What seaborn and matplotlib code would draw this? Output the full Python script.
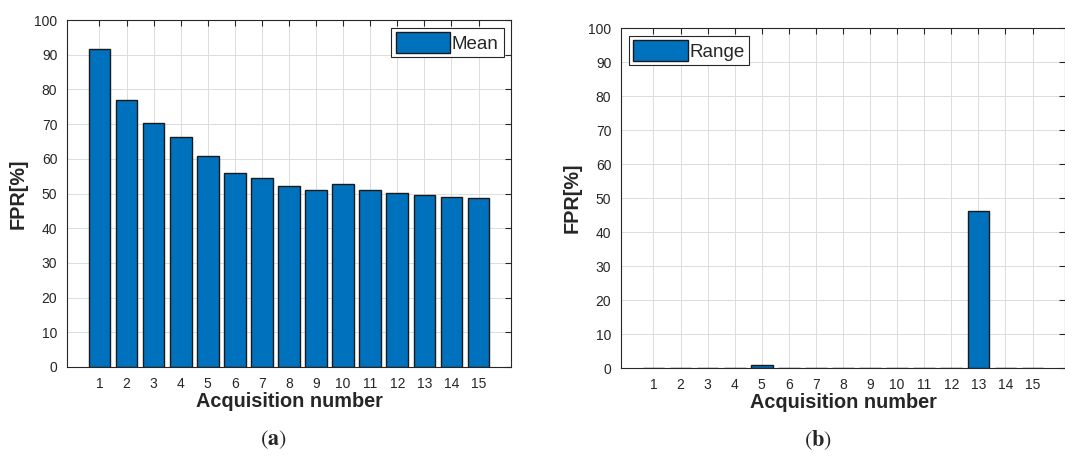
import pandas as pd
import matplotlib.pyplot as plt
import matplotlib.patches as mpatches
import seaborn as sns

# Data
acquisition = list(range(1, 16))
mean_fpr = [91.6, 77.0, 70.4, 66.3, 60.9, 55.8, 54.4, 52.3, 51.1, 52.6, 51.1, 50.2, 49.5, 49.1, 48.7]
range_fpr = [0, 0, 0, 0, 0.9, 0, 0, 0, 0, 0, 0, 0, 46.3, 0, 0]
y_ticks = list(range(0, 101, 10))

bar_color = '#0072BD'

sns.set_style('white')
plt.rcParams['font.family'] = ['Liberation Sans', 'DejaVu Sans']
plt.rcParams['mathtext.fontset'] = 'stix'

fig = plt.figure(figsize=(10.65, 4.58), dpi=100)
ax1 = fig.add_axes([67 / 1065, (458 - 367) / 458, 444 / 1065, 347 / 458])
ax2 = fig.add_axes([621 / 1065, (458 - 368) / 458, 444 / 1065, 340 / 458])

df = pd.DataFrame({'acq': acquisition, 'mean': mean_fpr, 'range': range_fpr})


def style_axes(ax, col, label, loc):
    sns.barplot(data=df, x='acq', y=col, ax=ax, native_scale=True, color=bar_color,
                edgecolor='#1a1a1a', linewidth=1.0, saturation=1, width=0.8)
    ax.set_xlim(-0.2, 16.2)
    ax.set_ylim(0, 100)
    ax.set_xticks(acquisition)
    ax.set_xticklabels([str(a) for a in acquisition])
    ax.set_yticks(y_ticks)
    ax.grid(True, color='#dcdcdc', linewidth=0.7)
    ax.set_axisbelow(True)
    ax.tick_params(direction='in', top=True, right=True, length=4, width=0.8,
                   labelsize=10, colors='#262626', pad=7)
    for s in ax.spines.values():
        s.set_color('#262626')
        s.set_linewidth(0.8)
    ax.set_xlabel('Acquisition number', fontsize=14.3, fontweight='bold', color='#262626', labelpad=1)
    ax.set_ylabel('FPR[%]', fontsize=14.3, fontweight='bold', color='#262626', labelpad=5)
    handle = mpatches.Patch(facecolor=bar_color, edgecolor='#1a1a1a', linewidth=1.0)
    leg = ax.legend([handle], [label], loc=loc, fontsize=13.5,
                    handlelength=2.9, handleheight=1.3, handletextpad=0.1,
                    borderpad=0.25, borderaxespad=0.4, fancybox=False, framealpha=1)
    leg.get_frame().set_edgecolor('#262626')
    leg.get_frame().set_linewidth(0.8)


style_axes(ax1, 'mean', 'Mean', 'upper right')
style_axes(ax2, 'range', 'Range', 'upper left')

fig.text(273 / 1065, 1 - 440 / 458, r'($\mathbf{a}$)', ha='center', va='center',
         fontsize=16, family='STIXGeneral')
fig.text(818 / 1065, 1 - 440 / 458, r'($\mathbf{b}$)', ha='center', va='center',
         fontsize=16, family='STIXGeneral')

fig.savefig('out.png', dpi=100)
